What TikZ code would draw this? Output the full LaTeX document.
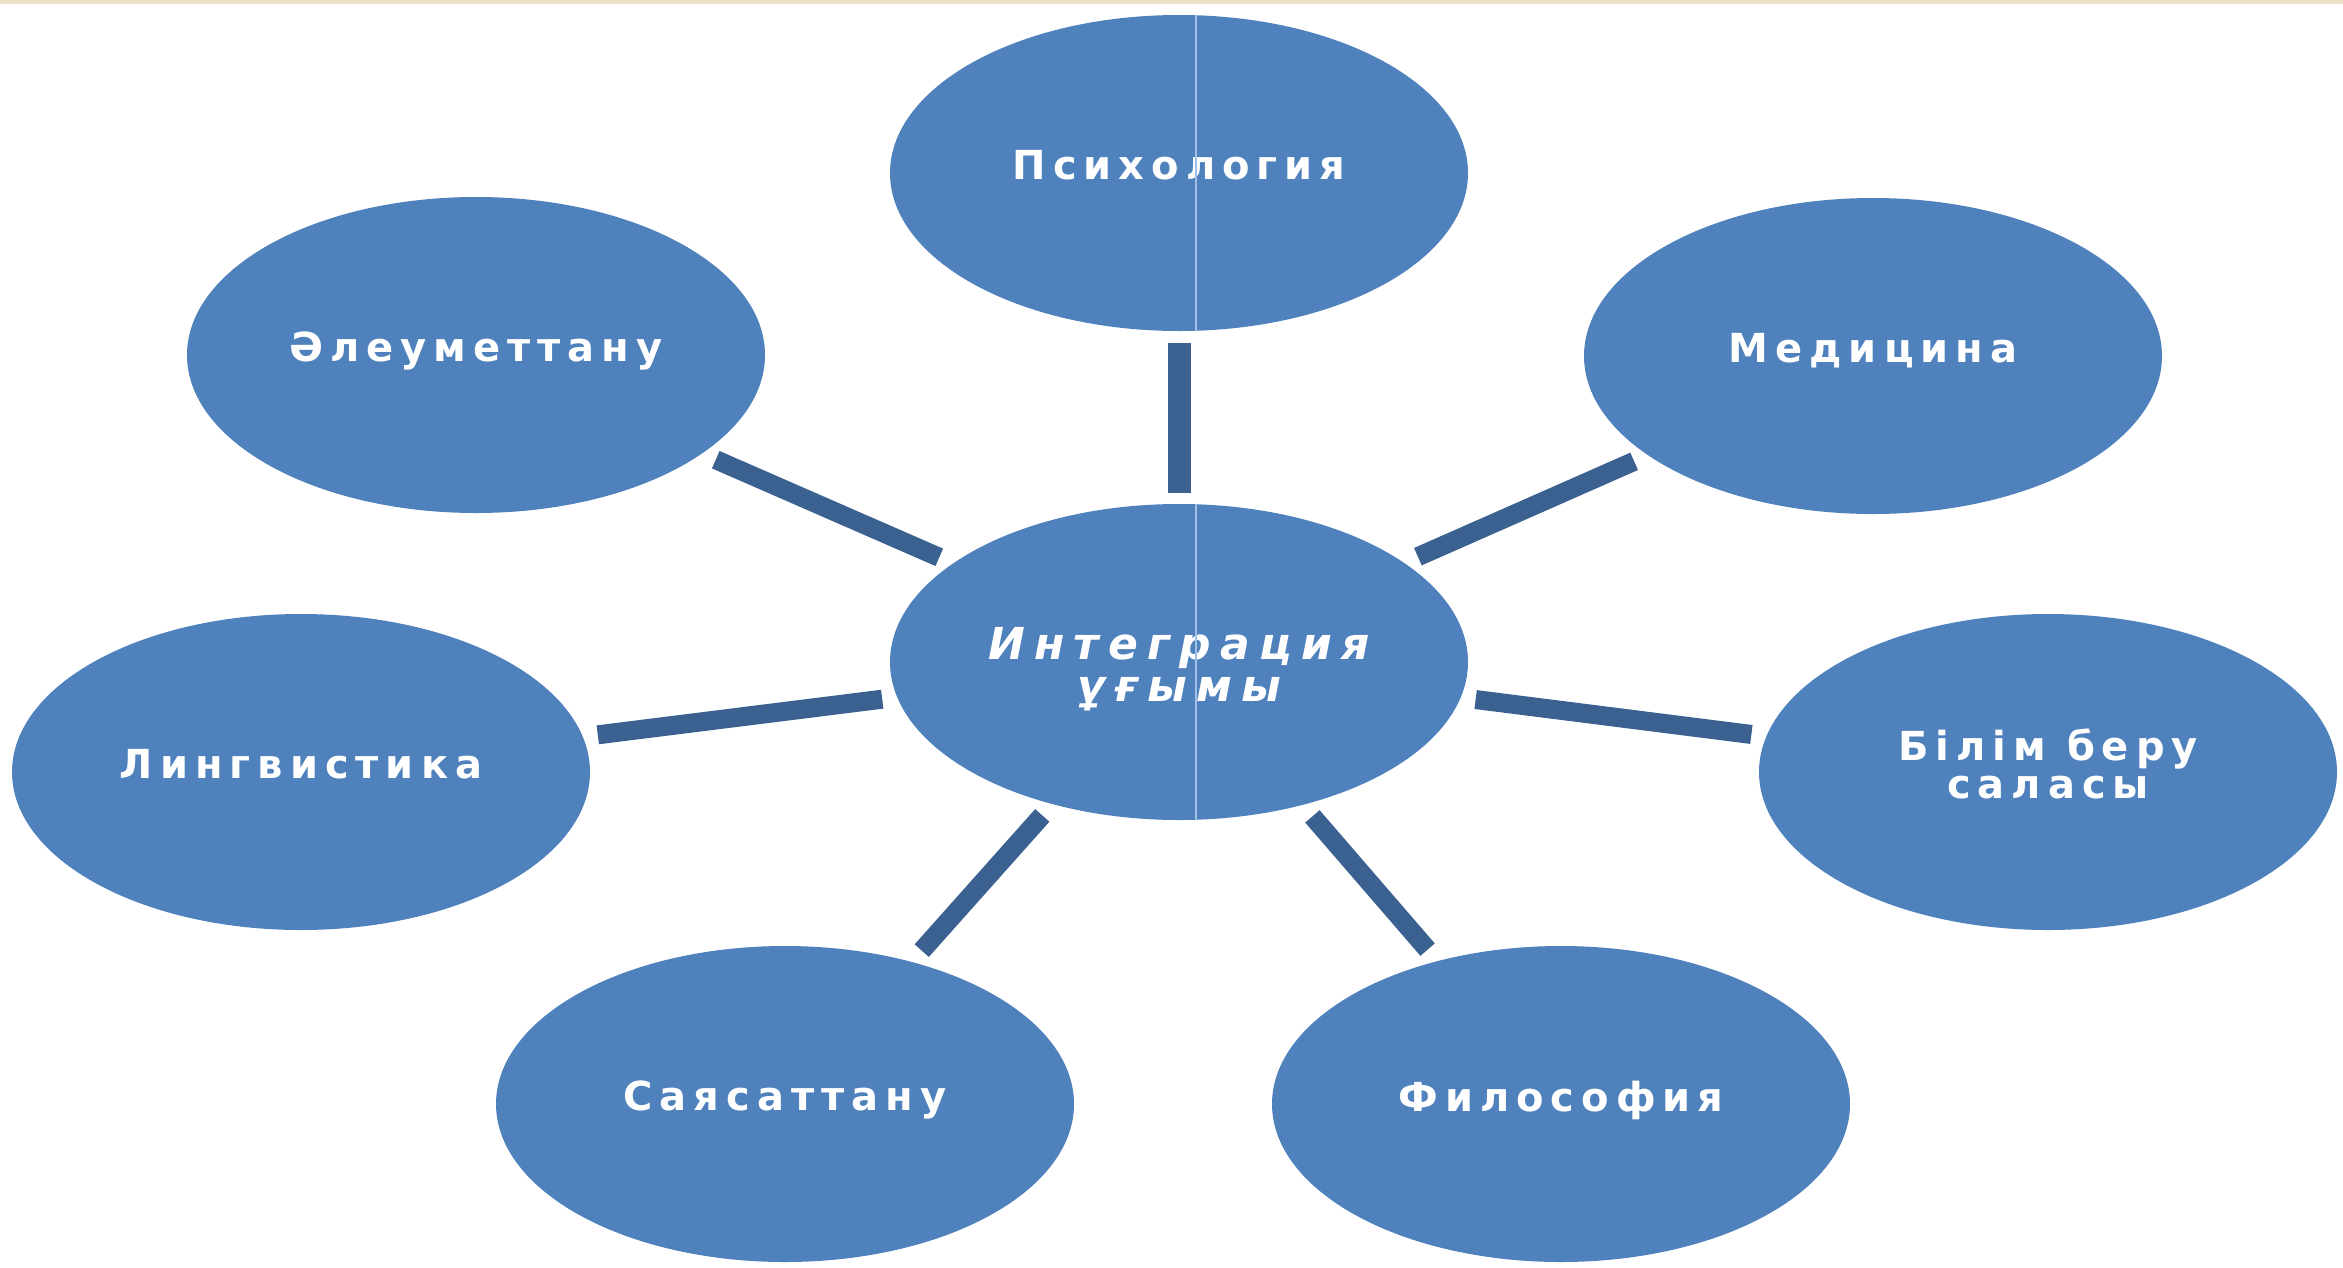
\documentclass[tikz,border=0pt]{standalone}
\usepackage{fontspec}
\usetikzlibrary{shapes.geometric}
\newfontfamily\lblfont[LetterSpace=17.5]{DejaVu Sans}
\newfontfamily\ctrfont[LetterSpace=21]{DejaVu Sans}
\definecolor{ellblue}{RGB}{79,129,189}
\definecolor{linkblue}{RGB}{58,97,144}
\definecolor{divblue}{RGB}{160,192,232}
\definecolor{bandbeige}{RGB}{238,226,198}
\newcommand{\hubstrut}{\rule{0pt}{46pt}}
\begin{document}
\begin{tikzpicture}[x=1pt,y=-1pt,
  ellbase/.style={ellipse, fill=ellblue, minimum width=578pt, minimum height=316pt,
    inner sep=0pt, text=white, align=center},
  bubble/.style={ellbase, font=\lblfont\bfseries\fontsize{40}{38}\selectfont,
    execute at end node={\rule[-16pt]{0pt}{16pt}}},
  hub/.style={ellbase, font=\ctrfont\bfseries\itshape\fontsize{44}{42}\selectfont},
  link/.style={draw=linkblue, line width=19pt, shorten <=15pt, shorten >=15pt},
  divline/.style={draw=divblue, line width=2.5pt}]
\useasboundingbox (0,0) rectangle (2343,1267);
\fill[white] (0,0) rectangle (2343,1267);
\fill[bandbeige] (0,0) rectangle (2343,4);

\node[hub]    (hub)   at (1179,662)  {\hubstrut Интеграция\\ұғымы};
\node[bubble] (psy)   at (1179,173)  {Психология};
\node[bubble] (soc)   at (476,355)   {Әлеуметтану};
\node[bubble] (med)   at (1873,356)  {Медицина};
\node[bubble] (ling)  at (301,772)   {Лингвистика};
\node[bubble] (edu)   at (2048,772)  {Білім беру\\саласы};
\node[bubble] (pol)   at (785,1104)  {Саясаттану};
\node[bubble] (phil)  at (1561,1104) {Философия};

\draw[link, line width=23pt, shorten <=12pt, shorten >=11pt] (psy) -- (hub);
\draw[link] (soc) -- (hub);
\draw[link] (med) -- (hub);
\draw[link] (ling) -- (hub);
\draw[link] (edu) -- (hub);
\draw[link] (pol) -- (hub);
\draw[link] (phil) -- (hub);

\draw[divline] ([xshift=17pt]psy.north) -- ([xshift=17pt]psy.south);
\draw[divline] ([xshift=17pt]hub.north) -- ([xshift=17pt]hub.south);
\end{tikzpicture}
\end{document}
